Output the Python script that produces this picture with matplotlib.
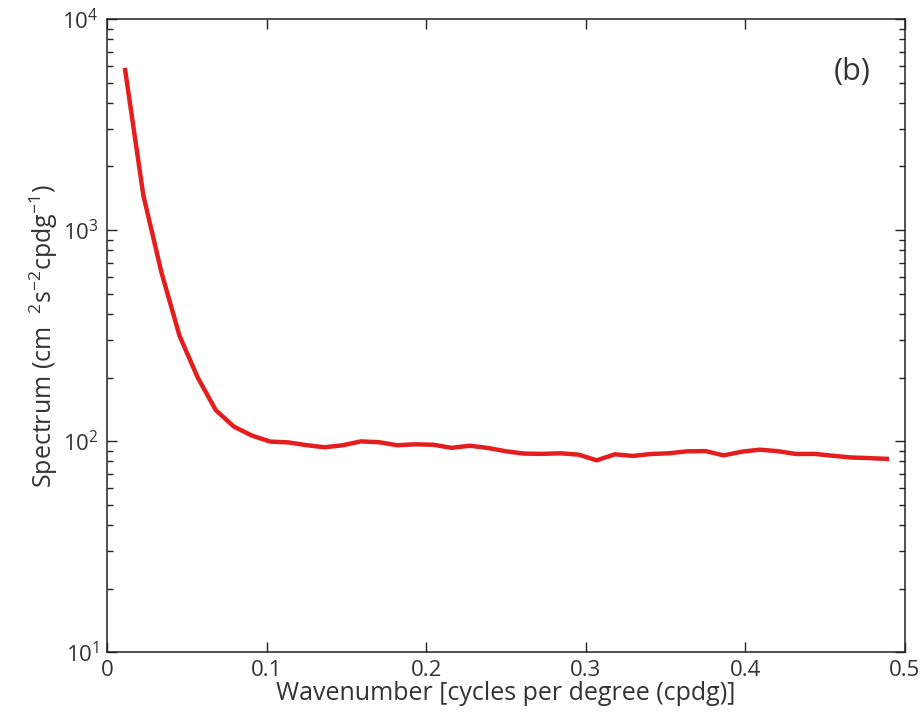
import matplotlib
matplotlib.use("Agg")
import matplotlib.pyplot as plt
import numpy as np

# wavenumber grid (cpdg) and spectrum values
wavenumber = np.arange(1, 44) / 88.0
spectrum = [5730, 1465, 630, 315, 200, 140, 117, 106, 99.4, 98.5,
            95.6, 93.4, 95.5, 99.6, 98.7, 95.5, 96.5, 96, 92.8, 95,
            92.7, 89.4, 87.2, 86.9, 87.5, 86.2, 81, 86.5, 85, 86.8,
            87.5, 89.4, 89.6, 85.5, 89, 91, 89.5, 86.8, 86.9, 85.2,
            83.6, 83, 82.3]

xticks = [0, 0.1, 0.2, 0.3, 0.4, 0.5]
xticklabels = ["0", "0.1", "0.2", "0.3", "0.4", "0.5"]

plt.rcParams['font.family'] = ['Open Sans', 'DejaVu Sans']
plt.rcParams['mathtext.fontset'] = 'custom'
plt.rcParams['mathtext.rm'] = 'Open Sans'
plt.rcParams['mathtext.it'] = 'Open Sans'
plt.rcParams['mathtext.bf'] = 'Open Sans'

fig = plt.figure(figsize=(9.21, 7.2), dpi=100)
ax = fig.add_axes([0.1162, 0.0944, 0.8664, 0.8792])

ax.plot(wavenumber, spectrum, color="#e41e1e", linewidth=3.2, solid_joinstyle="round")

ax.set_yscale("log")
ax.set_xlim(0, 0.5)
ax.set_ylim(10, 1e4)
ax.set_xticks(xticks)
ax.set_xticklabels(xticklabels)

ax.tick_params(which="both", direction="in", top=True, right=True, labelsize=16, color="#222222", labelcolor="#333333")
ax.tick_params(which="major", length=7, width=1, pad=6)
ax.tick_params(which="minor", length=4, width=1)
for sp in ax.spines.values():
    sp.set_linewidth(1.1)
    sp.set_color("#222222")

ax.set_xlabel("Wavenumber [cycles per degree (cpdg)]", fontsize=18, color="#333333", labelpad=0)
ax.set_ylabel(r"Spectrum (cm  $^{2}$s$^{-2}$cpdg$^{-1}$)", fontsize=18, color="#333333", labelpad=2)

ax.text(0.934, 0.916, "(b)", transform=ax.transAxes, fontsize=22, ha="center", va="center", color="#333333")

fig.savefig("out.png", dpi=100)
